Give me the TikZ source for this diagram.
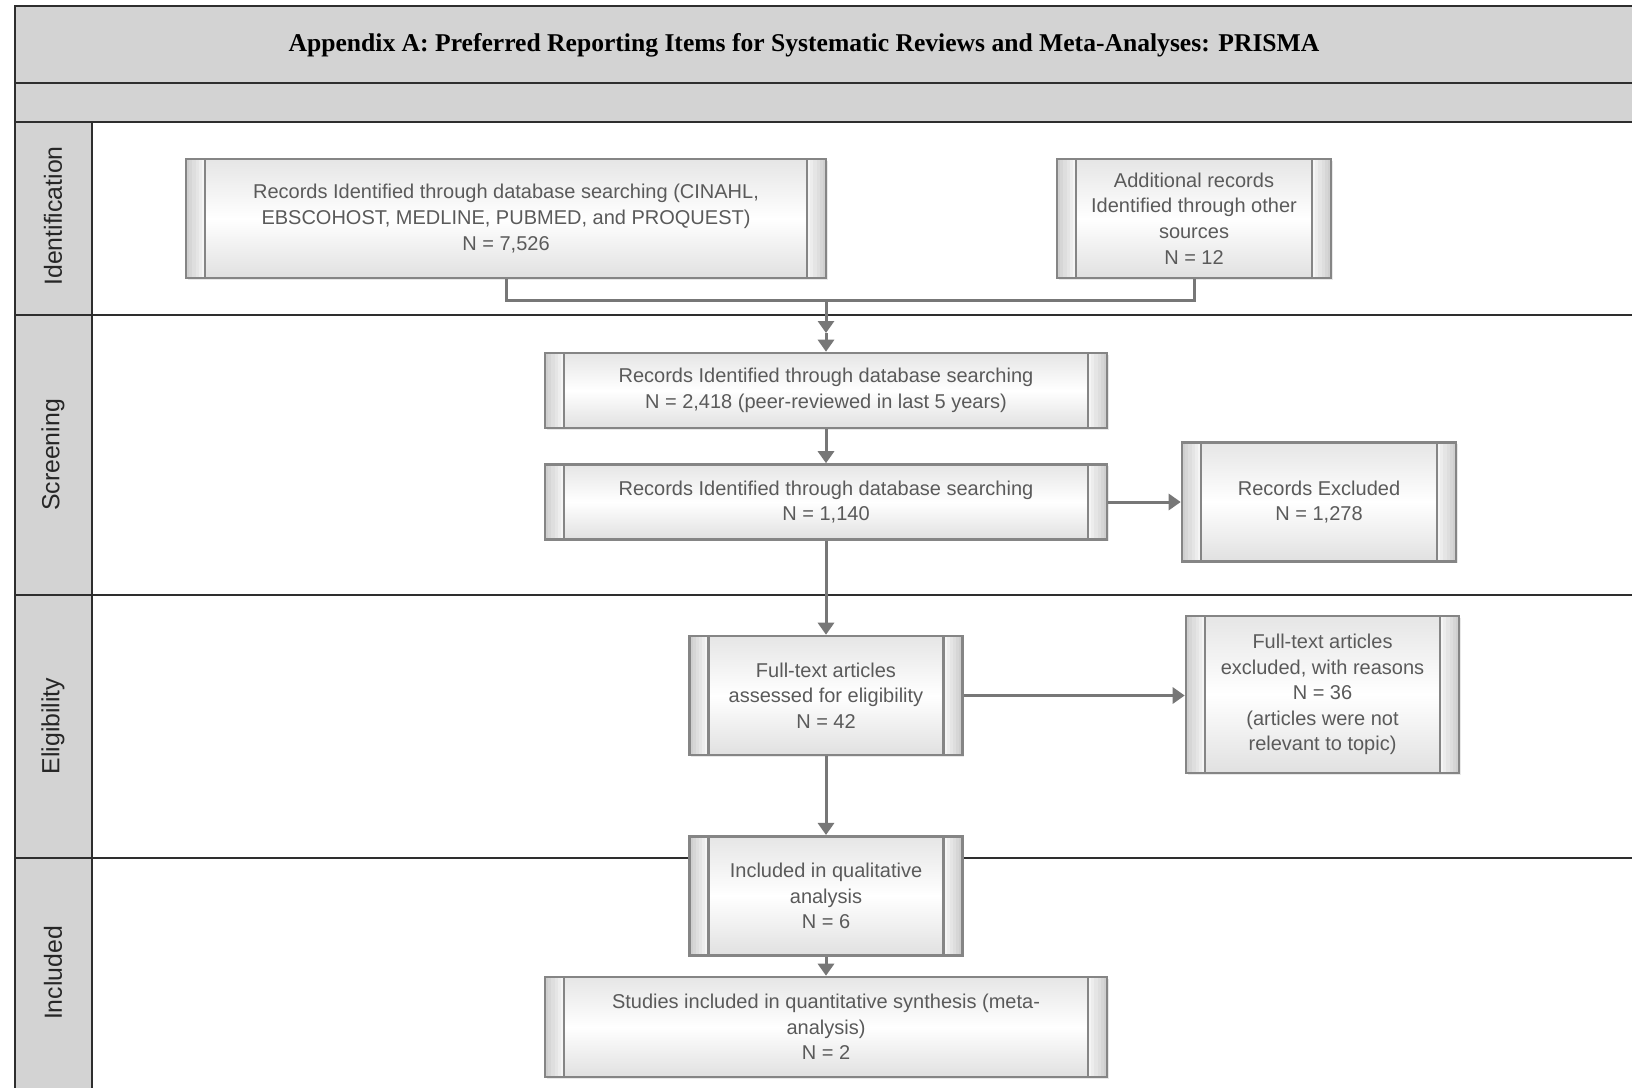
\documentclass[tikz,border=0pt]{standalone}
\usepackage{fontspec}
\setmainfont{Liberation Sans}
\newfontfamily\titlefont{Liberation Serif}
\usetikzlibrary{arrows.meta,shadows}
\definecolor{band}{HTML}{D3D3D3}
\definecolor{frameline}{HTML}{2E2E2E}
\definecolor{boxline}{HTML}{858585}
\definecolor{conn}{HTML}{777777}
\definecolor{boxtext}{HTML}{5A5A5A}
\begin{document}
\begin{tikzpicture}[x=0.5pt,y=-0.5pt,
  proc/.style={draw=boxline, line width=1.3pt,
    top color=gray!20, bottom color=gray!24, middle color=white,
    drop shadow={opacity=0.18, shadow xshift=0.8pt, shadow yshift=-0.8pt},
    text=boxtext, align=center, inner sep=0pt,
    font=\fontsize{10}{12.8}\selectfont,
    path picture={
      \foreach \i in {0,...,5}{
        \pgfmathtruncatemacro\pc{38-6*\i}
        \fill[gray!\pc] ([xshift={\i*1.5833pt}]path picture bounding box.north west) rectangle ([xshift={(\i+1)*1.5833pt}]path picture bounding box.south west);
        \fill[gray!\pc] ([xshift={-\i*1.5833pt}]path picture bounding box.north east) rectangle ([xshift={-(\i+1)*1.5833pt}]path picture bounding box.south east);
      }
      \draw[boxline, line width=1.1pt] ([xshift=9.5pt]path picture bounding box.north west) -- ([xshift=9.5pt]path picture bounding box.south west);
      \draw[boxline, line width=1.1pt] ([xshift=-9.5pt]path picture bounding box.north east) -- ([xshift=-9.5pt]path picture bounding box.south east);
    }},
  conline/.style={draw=conn, line width=1.5pt},
  arr/.style={draw=conn, line width=1.5pt, -{Triangle[length=6pt,width=8pt]}},
  frame/.style={draw=frameline, line width=1pt},
  lane/.style={rotate=90, font=\fontsize{12.4}{14}\selectfont, text=black!85}
]
\useasboundingbox (0,0) rectangle (1632,1087);
\begin{scope}
\clip (0,0) rectangle (1632,1087);
\fill[white] (0,0) rectangle (1632,1087);
\fill[band] (14.6,5.5) rectangle (1640,121.8);
\fill[band] (14.6,121.8) rectangle (91.6,1095);
\draw[frame] (14.6,1095) -- (14.6,5.5) -- (1640,5.5);
\draw[frame] (14.6,83.3) -- (1640,83.3);
\draw[frame] (14.6,121.8) -- (1640,121.8);
\draw[frame] (14.6,315.4) -- (1640,315.4);
\draw[frame] (14.6,595.3) -- (1640,595.3);
\draw[frame] (14.6,857.6) -- (1640,857.6);
\draw[frame] (91.6,121.8) -- (91.6,1095);
\end{scope}

\node[font=\titlefont\bfseries\fontsize{12.8}{15}\selectfont] (title) at (804,45)
  {Appendix A: Preferred Reporting Items for Systematic Reviews and Meta-Analyses: PRISMA};

\node[lane] (lid) at (53,216) {Identification};
\node[lane] (lsc) at (53,455) {Screening};
\node[lane] (lel) at (53,726) {Eligibility};
\node[lane] (lin) at (53,973) {Included};

\coordinate (m) at (826,299);
\coordinate (mid) at (826,333);

\node[proc, minimum width=320pt, minimum height=59.5pt] (db) at (506,218.5)
  {Records Identified through database searching (CINAHL,\\EBSCOHOST, MEDLINE, PUBMED, and PROQUEST)\\N = 7,526};
\node[proc, minimum width=137pt, minimum height=59.5pt] (other) at (1194,218.5)
  {Additional records\\Identified through other\\sources\\N = 12};
\node[proc, minimum width=281pt, minimum height=37.5pt] (scr1) at (826,390.5)
  {Records Identified through database searching\\N = 2,418 (peer-reviewed in last 5 years)};
\node[proc, minimum width=281pt, minimum height=37.5pt] (scr2) at (826,502)
  {Records Identified through database searching\\N = 1,140};
\node[proc, minimum width=137pt, minimum height=59.75pt] (excl) at (1319,502)
  {Records Excluded\\N = 1,278};
\node[proc, minimum width=136.5pt, minimum height=59.5pt] (ft) at (826,695.5)
  {Full-text articles\\assessed for eligibility\\N = 42};
\node[proc, minimum width=136.5pt, minimum height=78.5pt] (ftex) at (1322.5,694.5)
  {Full-text articles\\excluded, with reasons\\N = 36\\(articles were not\\relevant to topic)};
\node[proc, minimum width=136.5pt, minimum height=59.75pt] (incl) at (826,896)
  {Included in qualitative\\analysis\\N = 6};
\node[proc, minimum width=281pt, minimum height=50pt] (stud) at (826,1027)
  {Studies included in quantitative synthesis (meta-\\analysis)\\N = 2};

\draw[conline] (db.south) -- ++(0,21) -| (other.south);
\draw[arr] (m) -- (mid);
\draw[arr] (mid) -- (scr1.north);
\draw[arr] (scr1) -- (scr2);
\draw[arr] (scr2.east) -- (scr2.east -| excl.west);
\draw[arr] (scr2) -- (ft);
\draw[arr] (ft.east) -- (ft.east -| ftex.west);
\draw[arr] (ft) -- (incl);
\draw[arr] (incl) -- (stud);
\end{tikzpicture}
\end{document}
